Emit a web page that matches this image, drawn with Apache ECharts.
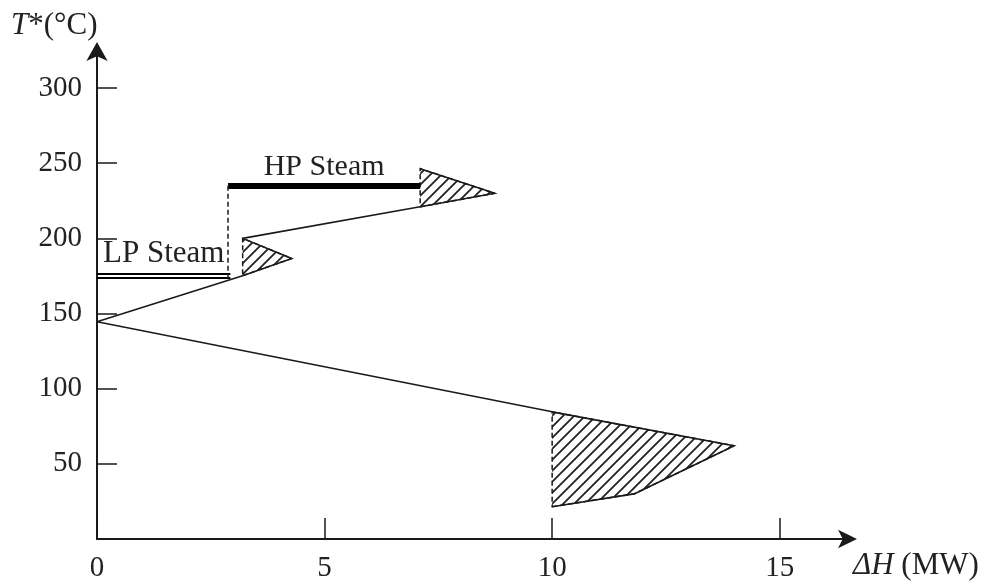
<!DOCTYPE html>
<html>
<head>
<meta charset="utf-8">
<script src="https://cdn.jsdelivr.net/npm/echarts@6/dist/echarts.min.js"></script>
<style>html,body{margin:0;padding:0;background:#fff}#c{width:985px;height:583px}</style>
</head>
<body>
<div id="c"></div>
<script>
// Grand composite curve: ΔH (MW) vs shifted temperature T* (°C)
const gccH = [10, 11.8, 14, 10, 0, 3.2, 4.28, 3.2, 7.1, 8.74, 7.1];
const gccT = [21.5, 30, 62, 84.6, 144.5, 175.2, 186.6, 200, 221, 230, 246.4];
// pockets: index ranges [start, end] into the GCC arrays
const pockets = [[0, 3], [5, 7], [8, 10]];
// steam levels
const hpSteamH = [2.88, 7.1];
const hpSteamT = 235;
const lpSteamH = [0, 2.93];
const lpSteamT = [176.7, 173.6];
const xTicks = [0, 5, 10, 15];
const yTicks = [50, 100, 150, 200, 250, 300];

const FONT = '"Liberation Serif", "DejaVu Serif", serif';
const INK = '#1a1a1a';

// hatch pattern
const pat = document.createElement('canvas');
const S = 11;
pat.width = S; pat.height = S;
const g = pat.getContext('2d');
g.strokeStyle = '#222';
g.lineWidth = 1.8;
g.beginPath();
g.moveTo(-1, S + 1); g.lineTo(S + 1, -1);
g.moveTo(-1, 1); g.lineTo(1, -1);
g.moveTo(S - 1, S + 1); g.lineTo(S + 1, S - 1);
g.stroke();

const chart = echarts.init(document.getElementById('c'), null, {renderer: 'canvas'});

const gccData = gccH.map((h, i) => [h, gccT[i]]);

const option = {
  animation: false,
  backgroundColor: '#fff',
  grid: {left: 97, right: 137, top: 52, bottom: 44},
  xAxis: {
    type: 'value', min: 0, max: 16.5,
    splitLine: {show: false},
    axisLine: {show: true, onZero: false, symbol: ['none', 'arrow'], symbolSize: [14, 19],
      symbolOffset: [0, 9],
      lineStyle: {color: INK, width: 2}},
    axisTick: {show: true, inside: true, length: 21, customValues: xTicks,
      lineStyle: {color: INK, width: 1.5}},
    axisLabel: {show: true, customValues: xTicks, fontSize: 29, fontFamily: FONT, color: '#222', margin: 15}
  },
  yAxis: {
    type: 'value', min: 0, max: 324,
    splitLine: {show: false},
    axisLine: {show: true, onZero: false, symbol: ['none', 'arrow'], symbolSize: [16, 19],
      symbolOffset: [0, 10],
      lineStyle: {color: INK, width: 2}},
    axisTick: {show: true, inside: true, length: 20, customValues: yTicks,
      lineStyle: {color: INK, width: 1.5}},
    axisLabel: {show: true, customValues: yTicks, fontSize: 29, fontFamily: FONT, color: '#222', margin: 15}
  },
  series: [
    {
      type: 'custom',
      name: 'pockets',
      z: 1,
      silent: true,
      data: pockets.map(p => [gccH[p[0]], gccT[p[0]]]),
      renderItem: function (params, api) {
        const p = pockets[params.dataIndex];
        const pts = [];
        for (let i = p[0]; i <= p[1]; i++) pts.push(api.coord([gccH[i], gccT[i]]));
        return {
          type: 'polygon',
          shape: {points: pts},
          style: {fill: {image: pat, repeat: 'repeat'}, stroke: INK, lineWidth: 1.5, lineDash: [5, 3]}
        };
      }
    },
    {
      type: 'line',
      name: 'GCC',
      z: 3,
      data: gccData,
      showSymbol: false,
      symbol: 'none',
      lineStyle: {color: INK, width: 1.6},
      markLine: {
        silent: true,
        symbol: ['none', 'none'],
        animation: false,
        data: [
          [{coord: [hpSteamH[0], hpSteamT], lineStyle: {color: '#000', width: 6, type: 'solid'},
            label: {show: true, formatter: 'HP Steam', position: 'insideMiddleTop', distance: 4,
              fontSize: 30, fontFamily: FONT, color: '#222'}},
           {coord: [hpSteamH[1], hpSteamT]}],
          [{coord: [lpSteamH[0], lpSteamT[0]], lineStyle: {color: '#000', width: 2, type: 'solid'},
            label: {show: true, formatter: 'LP Steam', position: 'insideMiddleTop', distance: 4,
              fontSize: 31, fontFamily: FONT, color: '#222'}},
           {coord: [lpSteamH[1], lpSteamT[0]]}],
          [{coord: [lpSteamH[0], lpSteamT[1]], lineStyle: {color: '#000', width: 2, type: 'solid'},
            label: {show: false}},
           {coord: [lpSteamH[1], lpSteamT[1]]}],
          [{coord: [hpSteamH[0], hpSteamT], lineStyle: {color: INK, width: 1.5, type: [5, 3]},
            label: {show: false}},
           {coord: [hpSteamH[0], lpSteamT[1]]}]
        ]
      }
    }
  ],
  graphic: [
    {type: 'text', left: 11, top: 10, z: 10,
      style: {text: '{i|T}*(°C)', fontSize: 31, fontFamily: FONT, fill: '#222',
        rich: {i: {fontStyle: 'italic', fontSize: 31, fontFamily: FONT, fill: '#222'}}}},
    {type: 'text', left: 853, top: 550, z: 10,
      style: {text: '{i|ΔH} (MW)', fontSize: 31, fontFamily: FONT, fill: '#222',
        rich: {i: {fontStyle: 'italic', fontSize: 31, fontFamily: FONT, fill: '#222'}}}}
  ]
};
chart.setOption(option);
</script>
</body>
</html>
